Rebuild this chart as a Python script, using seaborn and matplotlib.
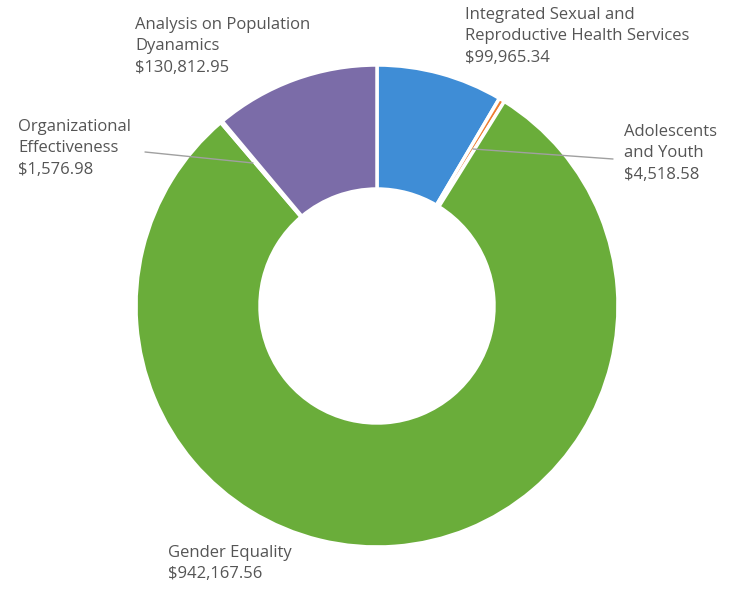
import matplotlib
matplotlib.use("Agg")
import matplotlib.pyplot as plt
import seaborn as sns

sns.set_theme(style="white")
plt.rcParams['font.family'] = ['Open Sans', 'DejaVu Sans']

# data, clockwise from 12 o'clock
categories = ["Integrated Sexual and\nReproductive Health Services",
              "Adolescents\nand Youth",
              "Gender Equality",
              "Organizational\nEffectiveness",
              "Analysis on Population\nDyanamics"]
values = [99965.34, 4518.58, 942167.56, 1576.98, 130812.95]
value_labels = ["$99,965.34", "$4,518.58", "$942,167.56", "$1,576.98", "$130,812.95"]
colors = ["#3F8DD6", "#ED7D31", "#6AAD3A", "#A5A5A5", "#7B6CA8"]

W, H = 738, 593
fig = plt.figure(figsize=(W / 100, H / 100), dpi=100)
ax = fig.add_axes([0, 0, 1, 1])

cx, cy = 377, H - 306
R, r = 241, 117
ax.pie(values, colors=colors, startangle=90, counterclock=False,
       center=(cx, cy), radius=R, frame=True,
       wedgeprops=dict(width=R - r, edgecolor="white", linewidth=2.5))
ax.set_xlim(0, W)
ax.set_ylim(0, H)
ax.set_aspect("equal")
ax.axis("off")

txt = "#555555"
fs = 12
# label positions (left, top) in pixels
pos = {0: (465, 7), 1: (624, 124), 2: (168, 545), 3: (18, 119), 4: (135, 17)}
for i, (x, y) in pos.items():
    ax.text(x, H - y, categories[i] + "\n" + value_labels[i], ha="left", va="top",
            fontsize=fs, color=txt, linespacing=1.45)

# leader lines
ax.plot([145, 253], [H - 152, H - 163], color="#A0A0A0", lw=1)
ax.plot([613, 473], [H - 159, H - 149], color="#A0A0A0", lw=1)

fig.savefig("out.png", dpi=100)
